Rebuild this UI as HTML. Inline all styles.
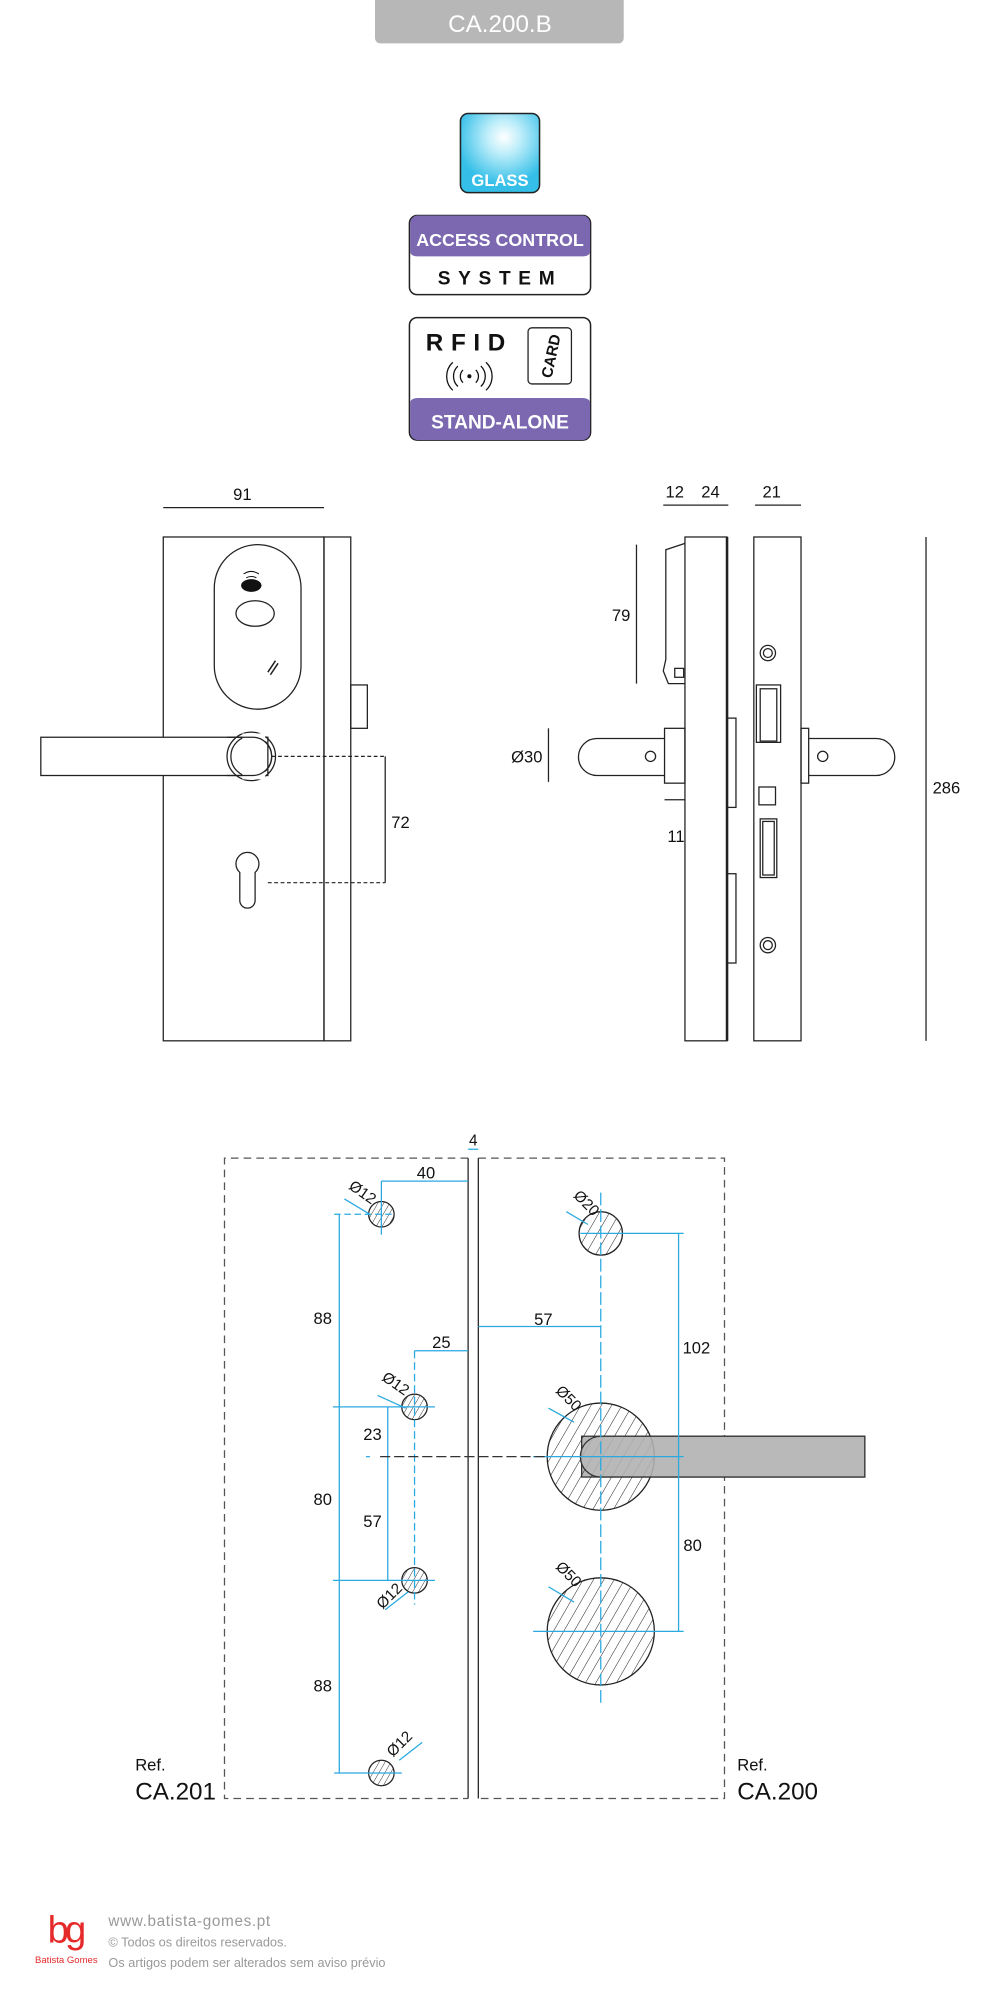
<!DOCTYPE html>
<html><head><meta charset="utf-8"><style>
html,body{margin:0;padding:0;background:#fff;}
svg{display:block;}
text{font-family:"Liberation Sans",sans-serif;}
</style></head><body>
<svg width="1000" height="2000" viewBox="0 0 784 1568" xmlns="http://www.w3.org/2000/svg">
<defs>
<radialGradient id="gl" cx="0.55" cy="0.3" r="0.6">
<stop offset="0" stop-color="#fff"/><stop offset="0.35" stop-color="#bfeefa"/><stop offset="1" stop-color="#35bfe8"/>
</radialGradient>
<pattern id="hatch" patternUnits="userSpaceOnUse" width="7" height="7" patternTransform="rotate(30)">
<line x1="0" y1="0" x2="0" y2="7" stroke="#222" stroke-width="0.8"/>
</pattern>
<pattern id="hatchs" patternUnits="userSpaceOnUse" width="4" height="4" patternTransform="rotate(30)">
<line x1="0" y1="0" x2="0" y2="4" stroke="#222" stroke-width="0.7"/>
</pattern>
</defs>
<rect width="784" height="1568" fill="#fff"/>

<!-- title -->
<rect x="294" y="-6" width="195" height="40" rx="4" fill="#b7b7b7"/>
<text x="392" y="25" font-size="19" fill="#fff" text-anchor="middle">CA.200.B</text>

<!-- GLASS -->
<rect x="361" y="89" width="62" height="62" rx="6" fill="url(#gl)" stroke="#222" stroke-width="1.2"/>
<text x="392" y="146" font-size="13" font-weight="bold" fill="#fff" text-anchor="middle">GLASS</text>

<!-- access control -->
<rect x="321" y="169" width="142" height="62" rx="6" fill="#fff" stroke="#222" stroke-width="1.2"/>
<path d="M321.6,175 a6 6 0 0 1 6-6 h129 a6 6 0 0 1 6 6 v23 q-1 3 -6 3 h-129 q-5 0 -6-3z" fill="#7b68b0"/>
<text x="392" y="193" font-size="14" font-weight="bold" fill="#fff" text-anchor="middle">ACCESS CONTROL</text>
<text x="392" y="223" font-size="15" font-weight="bold" fill="#111" text-anchor="middle" letter-spacing="6">SYSTEM</text>

<!-- RFID -->
<rect x="321" y="249" width="142" height="96" rx="6" fill="#fff" stroke="#222" stroke-width="1.2"/>
<path d="M321.6,315 q1-3 6-3 h129 q5 0 6 3 v24 a6 6 0 0 1 -6 6 h-129 a6 6 0 0 1 -6-6z" fill="#7b68b0"/>
<text x="392" y="336" font-size="15" font-weight="bold" fill="#fff" text-anchor="middle">STAND-ALONE</text>
<text x="368" y="275" font-size="19" font-weight="bold" fill="#111" text-anchor="middle" letter-spacing="6">RFID</text>
<rect x="414" y="257" width="34" height="44" rx="3" fill="#fff" stroke="#222" stroke-width="1"/>
<text transform="translate(436,280) rotate(-78)" font-size="12" font-weight="bold" fill="#111" text-anchor="middle">CARD</text>
<circle cx="368" cy="295" r="1.6" fill="#111"/>
<g fill="none" stroke="#111" stroke-width="1">
<path d="M363,290 a7 7 0 0 0 0 10 M373,290 a7 7 0 0 1 0 10"/>
<path d="M359,287 a11 11 0 0 0 0 16 M377,287 a11 11 0 0 1 0 16"/>
<path d="M355,284 a15 15 0 0 0 0 22 M381,284 a15 15 0 0 1 0 22"/>
</g>

<!-- FRONT VIEW -->
<g fill="none" stroke="#222" stroke-width="1">
<line x1="128" y1="398" x2="254" y2="398"/>
<rect x="128" y="421" width="126" height="395"/>
<rect x="254" y="421" width="21" height="395"/>
<rect x="275" y="537" width="13" height="34"/>
<rect x="168" y="427" width="68" height="129" rx="34"/>
<ellipse cx="200" cy="481" rx="15" ry="10"/>
<rect x="32" y="578" width="178" height="30" fill="#fff"/>
<circle cx="197" cy="593" r="19"/>
<circle cx="197" cy="593" r="16"/>
<path d="M188,684 a9 9 0 1 1 12 0 v22 a6 6 0 0 1 -12 0z" fill="#fff"/>
<path d="M210,527 l6 -9 M212,529 l6 -9" stroke-width="1.2"/>
</g>
<rect x="190" y="575" width="18" height="36" fill="#fff"/>
<path d="M178,578 h20 a15 15 0 0 1 0 30 h-20" fill="none" stroke="#222"/>
<ellipse cx="197" cy="459" rx="8" ry="5" fill="#111"/>
<path d="M191,450 q6-4 12 0 M193,453 q4-2 8 0" fill="none" stroke="#111" stroke-width="0.8"/>
<g stroke="#222" stroke-width="0.9" stroke-dasharray="3,2">
<line x1="213" y1="593" x2="302" y2="593"/><line x1="210" y1="692" x2="302" y2="692"/>
</g>
<line x1="302" y1="593" x2="302" y2="692" stroke="#222"/>
<text x="190" y="392" font-size="13" text-anchor="middle" fill="#111">91</text>
<text x="314" y="649" font-size="13" text-anchor="middle" fill="#111">72</text>

<!-- SIDE VIEW -->
<g fill="none" stroke="#222" stroke-width="1">
<line x1="520" y1="396" x2="571" y2="396"/><line x1="592" y1="396" x2="628" y2="396"/>
<rect x="537" y="421" width="33" height="395"/>
<line x1="570" y1="421" x2="570" y2="816" stroke-width="2"/>
<path d="M537,426 l-15,5 v86 l-2,9 l4,10 h13"/>
<rect x="529" y="524" width="7" height="7"/>
<rect x="570" y="563" width="7" height="70"/><rect x="570" y="685" width="7" height="70"/>
<rect x="521" y="571" width="16" height="43"/>
<path d="M521,579 h-53 a14.5 14.5 0 0 0 0 29 h53"/>
<circle cx="510" cy="593" r="4"/>
<rect x="591" y="421" width="37" height="395"/>
<circle cx="602" cy="512" r="6"/><circle cx="602" cy="512" r="3.5"/>
<circle cx="602" cy="741" r="6"/><circle cx="602" cy="741" r="3.5"/>
<rect x="593" y="537" width="19" height="45"/><rect x="596" y="540" width="13" height="41"/>
<rect x="595" y="617" width="13" height="14"/>
<rect x="596" y="642" width="13" height="46"/><rect x="598" y="644" width="9" height="42"/>
<rect x="628" y="571" width="6" height="43"/>
<path d="M634,579 h53 a14.5 14.5 0 0 1 0 29 h-53"/>
<circle cx="645" cy="593" r="4"/>
<line x1="499" y1="427" x2="499" y2="536"/>
<line x1="430" y1="571" x2="430" y2="613"/>
<line x1="521" y1="627" x2="537" y2="627"/>
<line x1="726" y1="421" x2="726" y2="816"/>
</g>
<text x="529" y="390" font-size="13" text-anchor="middle" fill="#111">12</text>
<text x="557" y="390" font-size="13" text-anchor="middle" fill="#111">24</text>
<text x="605" y="390" font-size="13" text-anchor="middle" fill="#111">21</text>
<text x="487" y="487" font-size="13" text-anchor="middle" fill="#111">79</text>
<text x="413" y="598" font-size="13" text-anchor="middle" fill="#111">Ø30</text>
<text x="530" y="660" font-size="13" text-anchor="middle" fill="#111">11</text>
<text x="742" y="622" font-size="13" text-anchor="middle" fill="#111">286</text>

<!-- BOTTOM TEMPLATE -->
<g fill="none" stroke="#555" stroke-width="1" stroke-dasharray="6,4">
<path d="M367,908 H176 V1410 H367"/>
<path d="M375,908 H568 V1410 H375"/>
</g>
<line x1="367" y1="908" x2="367" y2="1410" stroke="#222"/>
<line x1="375" y1="908" x2="375" y2="1410" stroke="#222"/>
<text x="371" y="898" font-size="12" text-anchor="middle" fill="#111">4</text>
<line x1="367" y1="901" x2="375" y2="901" stroke="#29a9e0"/>

<!-- handle bar -->
<rect x="456" y="1126" width="222" height="32" rx="0" fill="#b8b8b8" stroke="#333" stroke-width="1"/>

<!-- holes -->
<g stroke="#222" stroke-width="1">
<circle cx="299" cy="952" r="10" fill="url(#hatchs)"/>
<circle cx="325" cy="1103" r="10" fill="url(#hatchs)"/>
<circle cx="325" cy="1239" r="10" fill="url(#hatchs)"/>
<circle cx="299" cy="1390" r="10" fill="url(#hatchs)"/>
<circle cx="471" cy="967" r="17" fill="url(#hatch)"/>
<circle cx="471" cy="1142" r="42" fill="url(#hatch)"/>
<circle cx="471" cy="1279" r="42" fill="url(#hatch)"/>
</g>
<path d="M471,1126 H678 V1158 H471 a16 16 0 0 1 0-32z" fill="#b8b8b8" fill-opacity="0.85" stroke="#333"/>

<!-- blue dims -->
<g stroke="#29a9e0" stroke-width="1" fill="none">
<line x1="299" y1="926" x2="367" y2="926"/><line x1="299" y1="926" x2="299" y2="968"/>
<line x1="266" y1="952" x2="266" y2="1390"/>
<line x1="262" y1="952" x2="310" y2="952" stroke-dasharray="5,3"/>
<line x1="261" y1="1103" x2="341" y2="1103"/>
<line x1="261" y1="1239" x2="341" y2="1239"/>
<line x1="262" y1="1390" x2="315" y2="1390"/>
<line x1="325" y1="1059" x2="367" y2="1059"/>
<line x1="325" y1="1059" x2="325" y2="1258" stroke-dasharray="6,3"/>
<line x1="304" y1="1103" x2="304" y2="1239"/>
<line x1="375" y1="1040" x2="471" y2="1040"/>
<line x1="471" y1="935" x2="471" y2="1335" stroke-dasharray="10,3"/>
<line x1="532" y1="967" x2="532" y2="1279"/>
<line x1="455" y1="967" x2="536" y2="967"/>
<line x1="418" y1="1279" x2="536" y2="1279"/>
<line x1="418" y1="1142" x2="536" y2="1142"/>
<line x1="287" y1="1142" x2="290" y2="1142"/>
<line x1="270" y1="940" x2="290" y2="952"/>
<line x1="296" y1="1094" x2="318" y2="1104"/>
<line x1="302" y1="1262" x2="320" y2="1248"/>
<line x1="313" y1="1380" x2="331" y2="1366"/>
<line x1="444" y1="950" x2="461" y2="960"/>
<line x1="430" y1="1104" x2="450" y2="1115"/>
<line x1="430" y1="1244" x2="450" y2="1256"/>
</g>
<line x1="298" y1="1142" x2="430" y2="1142" stroke="#333" stroke-dasharray="8,3"/>

<g font-size="13" fill="#111" text-anchor="middle">
<text x="334" y="924">40</text>
<text x="253" y="1038">88</text>
<text x="346" y="1057">25</text>
<text x="292" y="1129">23</text>
<text x="253" y="1180">80</text>
<text x="292" y="1197">57</text>
<text x="253" y="1326">88</text>
<text x="426" y="1039">57</text>
<text x="546" y="1061">102</text>
<text x="543" y="1216">80</text>
<text transform="translate(282,938) rotate(35)" font-size="12">Ø12</text>
<text transform="translate(308,1088) rotate(35)" font-size="12">Ø12</text>
<text transform="translate(308,1254) rotate(-45)" font-size="12">Ø12</text>
<text transform="translate(316,1370) rotate(-45)" font-size="12">Ø12</text>
<text transform="translate(457,946) rotate(45)" font-size="12">Ø20</text>
<text transform="translate(443,1099) rotate(45)" font-size="12">Ø50</text>
<text transform="translate(443,1237) rotate(45)" font-size="12">Ø50</text>
</g>
<g fill="#111">
<text x="106" y="1388" font-size="13">Ref.</text>
<text x="106" y="1411" font-size="19">CA.201</text>
<text x="578" y="1388" font-size="13">Ref.</text>
<text x="578" y="1411" font-size="19">CA.200</text>
</g>

<!-- footer -->
<text x="51" y="1523" font-size="30" fill="#e52a2a" text-anchor="middle" letter-spacing="-3">bg</text>
<text x="52" y="1539" font-size="7.5" fill="#e52a2a" text-anchor="middle">Batista Gomes</text>
<text x="85" y="1510" font-size="12" fill="#999" letter-spacing="0.5">www.batista-gomes.pt</text>
<text x="85" y="1526" font-size="10" fill="#999">© Todos os direitos reservados.</text>
<text x="85" y="1542" font-size="10" fill="#999">Os artigos podem ser alterados sem aviso prévio</text>
</svg>
</body></html>
